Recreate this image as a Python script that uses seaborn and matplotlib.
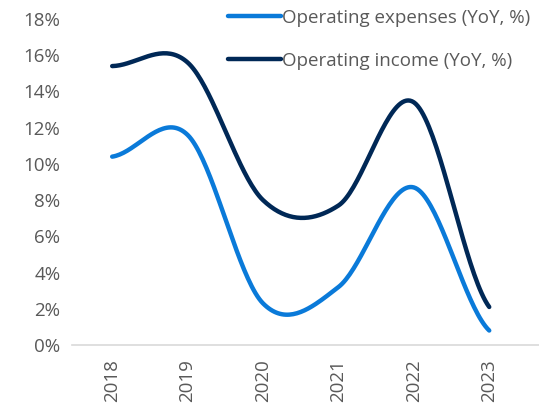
"""
plot.py
    Operating expenses vs operating income growth (YoY), smoothed lines
"""

import numpy as np
import pandas as pd
import matplotlib
matplotlib.use('Agg')
import matplotlib.pyplot as plt
import seaborn as sns

# Data
years = ['2018', '2019', '2020', '2021', '2022', '2023']
opex_yoy = [10.4, 11.6, 2.3, 3.2, 8.7, 0.8]
op_income_yoy = [15.4, 15.6, 8.0, 7.7, 13.4, 2.1]

series_names = ['Operating expenses (YoY, %)', 'Operating income (YoY, %)']
colors = {'Operating expenses (YoY, %)': '#0A7AD9',
          'Operating income (YoY, %)': '#002856'}


def smooth(values, n=40):
    """Catmull-Rom spline through the points (like Excel's smoothed line)"""
    y = np.asarray(values, dtype=float)
    x = np.arange(len(y), dtype=float)
    xs, ys = [], []
    for i in range(len(y) - 1):
        p0 = y[i - 1] if i > 0 else y[i]
        p1, p2 = y[i], y[i + 1]
        p3 = y[i + 2] if i + 2 < len(y) else y[i + 1]
        t = np.linspace(0, 1, n, endpoint=False)
        ys.append(0.5 * (2 * p1 + (-p0 + p2) * t
                         + (2 * p0 - 5 * p1 + 4 * p2 - p3) * t ** 2
                         + (-p0 + 3 * p1 - 3 * p2 + p3) * t ** 3))
        xs.append(x[i] + t)
    xs.append([x[-1]])
    ys.append([y[-1]])
    return np.concatenate(xs), np.concatenate(ys)


frames = []
for name, vals in zip(series_names, [opex_yoy, op_income_yoy]):
    sx, sy = smooth(vals)
    frames.append(pd.DataFrame({'x': sx, 'y': sy / 100, 'series': name}))
df = pd.concat(frames, ignore_index=True)

sns.set_style('white')
plt.rcParams['font.family'] = ['Open Sans', 'DejaVu Sans']

fig = plt.figure(figsize=(5.39, 4.04), dpi=100)
ax = fig.add_axes([0.134, 0.146, 0.866, 0.807])

sns.lineplot(data=df, x='x', y='y', hue='series', palette=colors,
             linewidth=3.2, ax=ax, sort=False, estimator=None)
for line in ax.lines:
    line.set_solid_capstyle('round')

ax.set_xlim(-0.53, 5.66)
ax.set_ylim(0, 0.18)
ax.set_yticks(np.arange(0, 0.181, 0.02))
ax.set_yticklabels([f'{int(round(v * 100))}%' for v in np.arange(0, 0.181, 0.02)])
ax.set_xticks(range(len(years)))
ax.set_xticklabels(years, rotation=90)
ax.tick_params(axis='both', length=0, labelsize=13.5, colors='#595959')
ax.tick_params(axis='y', pad=8.5)
ax.tick_params(axis='x', pad=10)
ax.set_xlabel('')
ax.set_ylabel('')

for side in ['top', 'right', 'left']:
    ax.spines[side].set_visible(False)
ax.spines['bottom'].set_color('#D9D9D9')
ax.spines['bottom'].set_linewidth(1.2)

leg = ax.legend(loc='upper right', bbox_to_anchor=(0.997, 1.055), frameon=False,
                fontsize=13.5, handlelength=2.8, handletextpad=0.05,
                labelspacing=1.35, borderaxespad=0)
for txt in leg.get_texts():
    txt.set_color('#595959')
for h in leg.get_lines():
    h.set_linewidth(3.2)
    h.set_solid_capstyle('round')

plt.savefig('out.png', dpi=100)
